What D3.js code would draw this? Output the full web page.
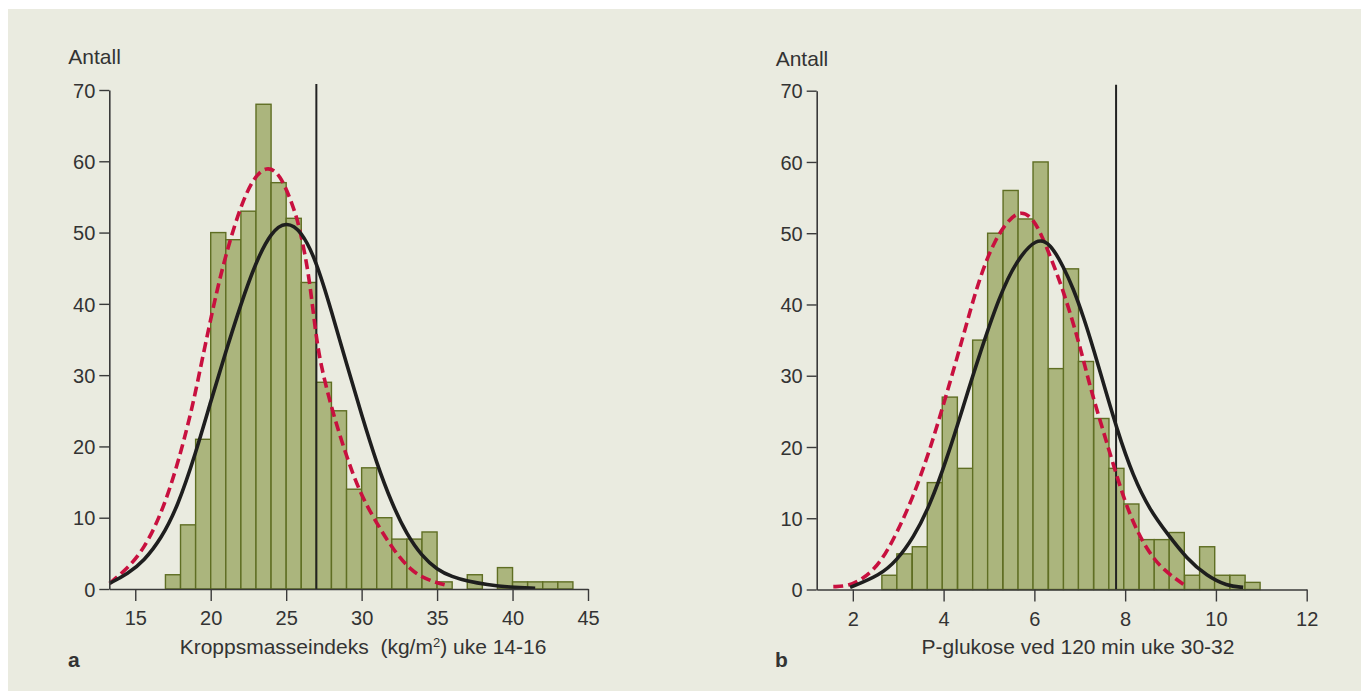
<!DOCTYPE html>
<html>
<head>
<meta charset="utf-8">
<script src="https://cdn.jsdelivr.net/npm/d3@7"></script>
<style>
	html, body { margin: 0; padding: 0; background: #fff; }
	svg { display: block; }
	text { font-family: 'Liberation Sans', Arial, Helvetica, sans-serif; fill: #333; }
</style>
</head>
<body>
<div id="chart"></div>
<script>
// shared y ticks
var countTicks = [0, 10, 20, 30, 40, 50, 60, 70];

// panel a - BMI uke 14-16
var bmiTicks = [15, 20, 25, 30, 35, 40, 45];
var bmiBinStart = [17, 18, 19, 20, 21, 22, 23, 24, 25, 26, 27, 28, 29, 30, 31, 32, 33, 34, 35, 36, 37, 38, 39, 40, 41, 42, 43];
var bmiCounts = [2, 9, 21, 50, 49, 53, 68, 57, 52, 43, 29, 25, 14, 17, 10, 7, 7, 8, 1, 0, 2, 0, 3, 1, 1, 1, 1];
var bmiBinWidth = 1;
var bmiCutoff = 27;
var bmiSolidX = [13.3, 14.5, 15.6, 16.7, 17.8, 19.0, 20.0, 21.0, 22.0, 23.0, 24.0, 25.0, 26.0, 27.0, 28.0, 29.0, 30.0, 31.0, 32.0, 33.0, 34.0, 35.0, 36.0, 37.0, 38.3, 39.8, 41.5];
var bmiSolidY = [0.8, 2.1, 4.0, 7.0, 11.5, 19, 26.3, 33.3, 40, 45.9, 50.1, 51.6, 50.3, 46, 39, 31.6, 24.4, 17.6, 12, 7.6, 4.6, 2.7, 1.7, 1.1, 0.6, 0.25, 0.1];
var bmiDashX = [13.3, 14.5, 15.6, 16.7, 17.7, 18.4, 18.9, 19.9, 20.8, 21.9, 22.8, 23.7, 24.6, 25.5, 25.9, 26.5, 26.9, 27.25, 28.1, 29.0, 29.9, 31.0, 32.1, 33.2, 34.3, 35.5];
var bmiDashY = [0.8, 2.9, 5.7, 10.4, 16.7, 22.3, 26.6, 37, 45.5, 53.3, 57.6, 59.4, 58.3, 53.5, 50.6, 44.3, 36.8, 31.7, 24.6, 18.6, 13.4, 9.2, 5.5, 2.7, 1.3, 0.6];

// panel b - P-glukose 120 min uke 30-32
var glucTicks = [2, 4, 6, 8, 10, 12];
var glucBinStart = [2.64, 2.97, 3.31, 3.64, 3.97, 4.31, 4.64, 4.97, 5.31, 5.64, 5.97, 6.31, 6.64, 6.97, 7.31, 7.64, 7.97, 8.31, 8.64, 8.97, 9.31, 9.64, 9.97, 10.31, 10.64];
var glucCounts = [2, 5, 6, 15, 27, 17, 35, 50, 56, 52, 60, 31, 45, 32, 24, 17, 12, 7, 7, 8, 2, 6, 2, 2, 1];
var glucBinWidth = 1 / 3;
var glucCutoff = 7.8;
var glucSolidX = [1.94, 2.6, 2.97, 3.33, 3.7, 4.07, 4.44, 4.73, 5.24, 5.61, 6.05, 6.35, 6.64, 6.86, 7.08, 7.3, 7.45, 7.82, 8.18, 8.55, 8.92, 9.36, 9.8, 10.24, 10.6];
var glucSolidY = [0.3, 2.0, 4.1, 7.2, 11.8, 18.3, 25.8, 31.8, 41.4, 46.2, 49.4, 48.6, 45.3, 42.2, 38.3, 33.8, 30.5, 22.4, 15.8, 11.1, 7.9, 4.3, 1.9, 0.5, 0.3];
var glucDashX = [1.57, 1.9, 2.23, 2.6, 2.97, 3.33, 3.7, 4.07, 4.44, 4.73, 5.1, 5.61, 5.98, 6.27, 6.64, 7.01, 7.23, 7.52, 7.82, 8.11, 8.48, 8.84, 9.36];
var glucDashY = [0.4, 0.45, 1.5, 3.6, 7.9, 13, 19.6, 27.5, 35.7, 42.5, 49, 53.5, 52.3, 48.1, 42, 34.1, 28.3, 22.2, 15.8, 10.2, 5.5, 2.7, 0.4];

var width = 1361;
var height = 691;

var svg = d3.select('#chart')
	.append('svg')
	.attr('width', width)
	.attr('height', height);

svg.append('rect')
	.attr('x', 8)
	.attr('y', 9)
	.attr('width', width - 8)
	.attr('height', height - 9)
	.attr('fill', '#eaebe0');

drawPanel({
	xDomain: [13.28, 45],
	xRange: [109.3, 588],
	yRange: [589, 90],
	ticks: bmiTicks,
	binStart: bmiBinStart,
	counts: bmiCounts,
	binWidth: bmiBinWidth,
	cutoff: bmiCutoff,
	solid: [bmiSolidX, bmiSolidY],
	dash: [bmiDashX, bmiDashY],
	antallY: 64,
	letter: 'a',
	letterX: 68,
	titleX: 363
});

drawPanel({
	xDomain: [1.204, 12],
	xRange: [816.7, 1306.7],
	yRange: [589.5, 90.7],
	ticks: glucTicks,
	binStart: glucBinStart,
	counts: glucCounts,
	binWidth: glucBinWidth,
	cutoff: glucCutoff,
	solid: [glucSolidX, glucSolidY],
	dash: [glucDashX, glucDashY],
	antallY: 66,
	letter: 'b',
	letterX: 775,
	titleX: 1078
});

function drawPanel(cfg) {
	var xScale = d3.scaleLinear().domain(cfg.xDomain).range(cfg.xRange);
	var yScale = d3.scaleLinear().domain([0, 70]).range(cfg.yRange);
	var base = yScale(0);
	var g = svg.append('g');

	// bars (empty bins are skipped, index kept)
	var bins = cfg.counts.map(function(c, i) {
		return { x0: cfg.binStart[i], x1: cfg.binStart[i] + cfg.binWidth, count: c };
	}).filter(function(d) { return d.count > 0; });

	g.selectAll('.bar')
		.data(bins)
		.enter()
		.append('rect')
		.attr('class', 'bar')
		.attr('x', function(d) { return xScale(d.x0); })
		.attr('y', function(d) { return yScale(d.count); })
		.attr('width', function(d) { return xScale(d.x1) - xScale(d.x0); })
		.attr('height', function(d) { return base - yScale(d.count); })
		.attr('fill', '#abb57d')
		.attr('stroke', '#5f6e23')
		.attr('stroke-width', 1.4);

	// cutoff line
	g.append('line')
		.attr('x1', xScale(cfg.cutoff))
		.attr('x2', xScale(cfg.cutoff))
		.attr('y1', yScale(0))
		.attr('y2', yScale(70) - 6)
		.attr('stroke', '#222')
		.attr('stroke-width', 2);

	var line = d3.line()
		.x(function(d) { return xScale(d[0]); })
		.y(function(d) { return yScale(d[1]); })
		.curve(d3.curveBasis);

	g.append('path')
		.datum(d3.zip(cfg.dash[0], cfg.dash[1]))
		.attr('d', line)
		.attr('fill', 'none')
		.attr('stroke', '#c8103f')
		.attr('stroke-width', 3.6)
		.attr('stroke-dasharray', '10,5');

	g.append('path')
		.datum(d3.zip(cfg.solid[0], cfg.solid[1]))
		.attr('d', line)
		.attr('fill', 'none')
		.attr('stroke', '#1e1e1e')
		.attr('stroke-width', 3.6);

	// axes
	var xAxis = g.append('g')
		.attr('transform', 'translate(0,' + base + ')')
		.call(d3.axisBottom(xScale).tickValues(cfg.ticks).tickSizeInner(12).tickSizeOuter(0).tickPadding(10));

	var yAxis = g.append('g')
		.attr('transform', 'translate(' + cfg.xRange[0] + ',0)')
		.call(d3.axisLeft(yScale).tickValues(countTicks).tickSizeInner(10).tickSizeOuter(0).tickPadding(4));

	[xAxis, yAxis].forEach(function(ax) {
		ax.select('.domain').attr('stroke', '#3a3a3a').attr('stroke-width', 1.6);
		ax.selectAll('.tick line').attr('stroke', '#3a3a3a').attr('stroke-width', 1.4);
		ax.selectAll('.tick text')
			.attr('fill', '#333')
			.style('font-size', '20px')
			.style('font-family', "'Liberation Sans', Arial, sans-serif");
	});

	yAxis.selectAll('.tick text').attr('dy', '0.36em');

	g.append('text')
		.attr('x', cfg.xRange[0] - 41)
		.attr('y', cfg.antallY)
		.style('font-size', '21px')
		.text('Antall');

	var title = g.append('text')
		.attr('x', cfg.titleX)
		.attr('y', 654)
		.attr('text-anchor', 'middle')
		.style('font-size', '21px');

	if (cfg.letter === 'a') {
		title.append('tspan').text('Kroppsmasseindeks\u00a0\u00a0(kg/m');
		title.append('tspan').attr('dy', -7).style('font-size', '13px').text('2');
		title.append('tspan').attr('dy', 7).text(') uke 14-16');
	} else {
		title.text('P-glukose ved 120 min uke 30-32');
	}

	g.append('text')
		.attr('x', cfg.letterX)
		.attr('y', 667)
		.style('font-size', '21px')
		.style('font-weight', 'bold')
		.attr('fill', '#222')
		.text(cfg.letter);
}
</script>
</body>
</html>
